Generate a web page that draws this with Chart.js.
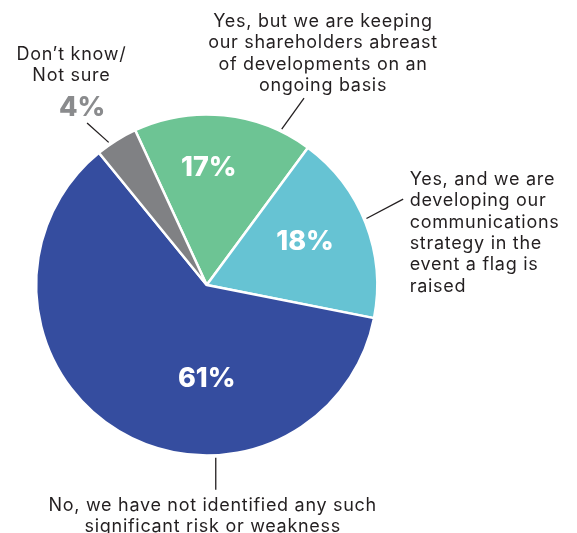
<!DOCTYPE html>
<html>
<head>
<meta charset="utf-8">
<script src="https://cdn.jsdelivr.net/npm/chart.js@4.4.1/dist/chart.umd.min.js"></script>
<style>
  html, body { margin: 0; padding: 0; background: #ffffff; }
  #wrap { width: 577px; height: 533px; position: relative; }
</style>
</head>
<body>
<div id="wrap"><canvas id="pie" width="577" height="533"></canvas></div>
<script>
// Survey answers, clockwise from the green slice
const categories = [
  'Yes, but we are keeping our shareholders abreast of developments on an ongoing basis',
  'Yes, and we are developing our communications strategy in the event a flag is raised',
  'No, we have not identified any such significant risk or weakness',
  'Don\u2019t know/ Not sure'
];
const shares = [17, 18, 61, 4];
const sliceColors = ['#6dc494', '#66c3d3', '#354d9f', '#808184'];

// Callout text, one array of lines per slice
const calloutLines = [
  ['Yes, but we are keeping', 'our shareholders abreast', 'of developments on an', 'ongoing basis'],
  ['Yes, and we are', 'developing our', 'communications', 'strategy in the', 'event a flag is', 'raised'],
  ['No, we have not identified any such', 'significant risk or weakness'],
  ['Don\u2019t know/', 'Not sure']
];

// Placement of the percentage inside each slice: angle (deg, clockwise from top) and radius fraction
const pctPlace = [
  { ang: 1, frac: 0.70 },
  { ang: 65.3, frac: 0.635 },
  { ang: 180, frac: 0.54 },
  null
];
// Leader line: start angle on the rim, offset to its outer end
const leaders = [
  { ang: 25.7, dx: 22.3, dy: -31 },
  { ang: 67.4, dx: 36.7, dy: -19.4 },
  { ang: 177, dx: 0, dy: 32 },
  { ang: -34.5, dx: -21.6, dy: -19.3 }
];
// Text block anchor relative to the outer end of the leader
const textPlace = [
  { align: 'center', dx: 19, dy: -7, from: 'last' },
  { align: 'left', dx: 6.5, dy: -14, from: 'first' },
  { align: 'center', dx: -3, dy: 21, from: 'first' },
  { align: 'center', dx: -15.7, dy: -63, from: 'first' }
];

const FONT = 'Inter, "Noto Sans", sans-serif';
const LINE_H = 21.3;

const calloutPlugin = {
  id: 'callouts',
  afterDatasetsDraw(chart) {
    const ctx = chart.ctx;
    const arcs = chart.getDatasetMeta(0).data;
    const cx = arcs[0].x, cy = arcs[0].y, R = arcs[0].outerRadius;
    const pt = (deg, r) => {
      const a = deg * Math.PI / 180;
      return { x: cx + r * Math.sin(a), y: cy - r * Math.cos(a) };
    };
    ctx.save();
    // percentages inside slices
    ctx.fillStyle = '#ffffff';
    ctx.font = '800 27px ' + FONT;
    ctx.textAlign = 'center';
    ctx.textBaseline = 'alphabetic';
    shares.forEach((v, i) => {
      const p = pctPlace[i];
      if (!p) return;
      const q = pt(p.ang, R * p.frac);
      ctx.fillText(v + '%', q.x, q.y + 10);
    });
    // leaders and callout text
    shares.forEach((v, i) => {
      const L = leaders[i];
      const s = pt(L.ang, R + 2.5);
      const e = { x: s.x + L.dx, y: s.y + L.dy };
      ctx.strokeStyle = '#231f20';
      ctx.lineWidth = 1.3;
      ctx.beginPath();
      ctx.moveTo(s.x, s.y);
      ctx.lineTo(e.x, e.y);
      ctx.stroke();

      const T = textPlace[i];
      const lines = calloutLines[i];
      const x = e.x + T.dx;
      let y0 = e.y + T.dy;
      if (T.from === 'last') y0 -= (lines.length - 1) * LINE_H;
      ctx.fillStyle = '#231f20';
      ctx.font = '18px ' + FONT;
      ctx.letterSpacing = '0.7px';
      ctx.textAlign = T.align;
      lines.forEach((ln, k) => ctx.fillText(ln, x, y0 + k * LINE_H));
      ctx.letterSpacing = '0px';
      if (i === 3) {
        ctx.fillStyle = '#8a8b8d';
        ctx.font = '800 27px ' + FONT;
        ctx.textAlign = 'center';
        ctx.fillText(v + '%', e.x - 5, e.y - 7);
      }
    });
    ctx.restore();
  }
};

new Chart(document.getElementById('pie'), {
  type: 'pie',
  data: {
    labels: categories,
    datasets: [{
      data: shares,
      backgroundColor: sliceColors,
      borderColor: '#ffffff',
      borderWidth: 2.5
    }]
  },
  options: {
    responsive: false,
    animation: false,
    rotation: -24.8,
    layout: { padding: { top: 113.2, bottom: 76.2, left: 34.9, right: 198.5 } },
    plugins: {
      legend: { display: false },
      tooltip: { enabled: false }
    }
  },
  plugins: [calloutPlugin]
});
</script>
</body>
</html>
